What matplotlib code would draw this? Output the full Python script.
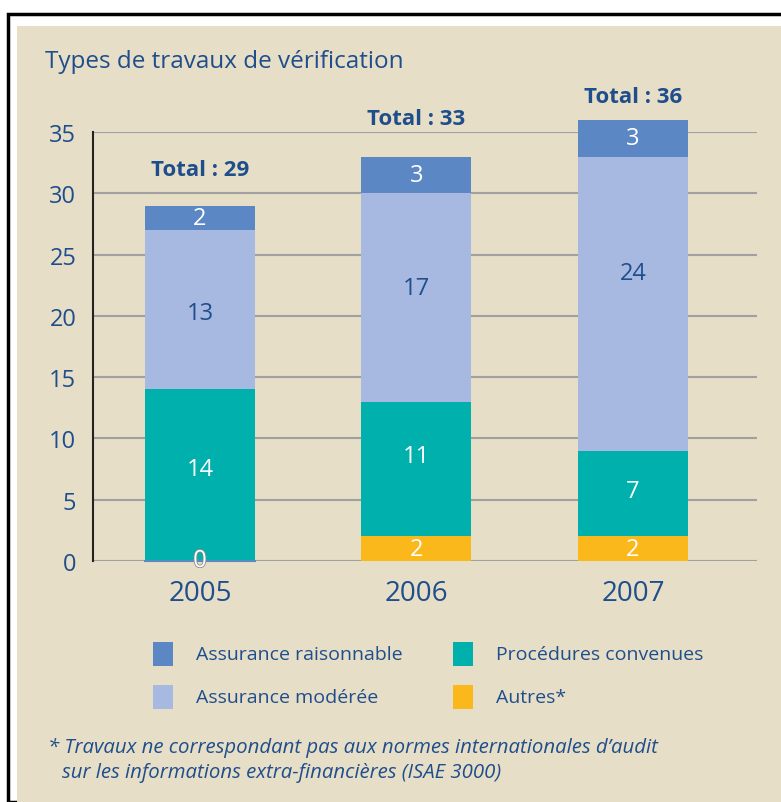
import numpy as np
import matplotlib
matplotlib.use('Agg')
import matplotlib.pyplot as plt
from matplotlib.patches import Rectangle
import matplotlib.patheffects as pe

plt.rcParams['font.family'] = ['Open Sans', 'DejaVu Sans']

# data
years = ['2005', '2006', '2007']
autres = [0, 2, 2]
procedures = [14, 11, 7]
moderee = [13, 17, 24]
raisonnable = [2, 3, 3]
totals = [29, 33, 36]

# label nudges (in data units) to sit like the original
total_offsets = [2.9, 3.1, 1.9]
proc_nudge = [0.5, 1.1, 0.2]
mod_nudge = [-0.3, 0.8, 2.5]

series_names = ['Assurance raisonnable', 'Assurance modérée', 'Procédures convenues', 'Autres*']

c_rais = '#5b87c5'
c_mod = '#a7b9e0'
c_proc = '#00b0ad'
c_aut = '#fbb81a'
bg = '#e6dec6'
txt = '#1f4e8c'

W, H = 781, 803
fig = plt.figure(figsize=(W/100, H/100), dpi=100)
fig.patch.set_facecolor('white')

# outer frame + beige panel
fig.patches.append(Rectangle((8/W, 0), 1, 1 - 15/H, transform=fig.transFigure,
                             facecolor='white', edgecolor='black', lw=2.5, zorder=-3))
fig.patches.append(Rectangle((17/W, 0), 1, 1 - 27/H, transform=fig.transFigure,
                             facecolor=bg, edgecolor='none', zorder=-2))

ax = fig.add_axes([93/W, 1 - 562/H, (757 - 93)/W, (562 - 133)/H])
ax.set_facecolor('none')
ax.set_zorder(2)

x = np.arange(len(years))
w = 0.508
b1 = np.array(autres)
b2 = b1 + np.array(procedures)
b3 = b2 + np.array(moderee)

for vals, bot, col in [(autres, None, c_aut), (procedures, b1, c_proc),
                       (moderee, b2, c_mod), (raisonnable, b3, c_rais)]:
    bars = ax.bar(x, vals, w, bottom=bot, color=col, zorder=3)
    for r in bars:
        r.set_clip_on(False)

# thin line for the empty 2005 "Autres" segment
ax.plot([x[0] - w/2, x[0] + w/2], [0, 0], color=c_rais, lw=1.5, zorder=4, clip_on=False)

fs = 17
for i in range(len(years)):
    t = ax.text(x[i], autres[i]/2 if autres[i] else 0.0, str(autres[i]), ha='center',
                va='center', color='white', fontsize=fs, zorder=5, clip_on=False)
    if autres[i] == 0:
        t.set_path_effects([pe.withStroke(linewidth=1.2, foreground='#8a8a8a')])
    ax.text(x[i], b1[i] + procedures[i]/2 + proc_nudge[i], str(procedures[i]), ha='center',
            va='center', color='white', fontsize=fs, zorder=5)
    ax.text(x[i], b2[i] + moderee[i]/2 + mod_nudge[i], str(moderee[i]), ha='center',
            va='center', color=txt, fontsize=fs, zorder=5)
    ax.text(x[i], b3[i] + raisonnable[i]/2, str(raisonnable[i]), ha='center', va='center',
            color='white', fontsize=fs, zorder=5, clip_on=False)
    ax.text(x[i], totals[i] + total_offsets[i], 'Total : %d' % totals[i], ha='center',
            va='center', color=txt, fontsize=16, fontweight='bold', clip_on=False, zorder=5)

ax.set_xlim(-0.494, 2.573)
ax.set_ylim(0, 35)
ax.set_yticks(np.arange(0, 36, 5))
ax.set_xticks(x)
ax.set_xticklabels(years)
ax.grid(axis='y', color='#a0a0a0', lw=1.5, zorder=1)
ax.set_axisbelow(True)
for s in ['top', 'right', 'bottom']:
    ax.spines[s].set_visible(False)
ax.spines['left'].set_color('#222222')
ax.spines['left'].set_linewidth(1.5)
ax.tick_params(axis='y', length=0, pad=12, labelsize=17, labelcolor=txt)
ax.tick_params(axis='x', length=0, pad=13, labelsize=20, labelcolor=txt)

fig.text(45/W, 1 - 62/H, 'Types de travaux de vérification', fontsize=17.5,
         color=txt, va='center', ha='left')

# legend, laid out by hand in two columns
leg_cols = [c_rais, c_mod, c_proc, c_aut]
for k, (name, col) in enumerate(zip(series_names, leg_cols)):
    cx = 153 if k < 2 else 453
    cy = 655 if k % 2 == 0 else 698
    fig.patches.append(Rectangle((cx/W, 1 - (cy + 12)/H), 20/W, 24/H,
                                 transform=fig.transFigure, facecolor=col,
                                 edgecolor='none', zorder=3))
    fig.text((cx + 43)/W, 1 - cy/H, name, fontsize=14, color=txt, va='center', ha='left')

fig.text(48/W, 1 - 748/H,
         '* Travaux ne correspondant pas aux normes internationales d\u2019audit',
         fontsize=14.7, style='italic', color=txt, va='center')
fig.text(62/W, 1 - 773/H,
         'sur les informations extra-financières (ISAE 3000)',
         fontsize=14.7, style='italic', color=txt, va='center')

fig.savefig('out.png', dpi=100, facecolor=fig.get_facecolor())
